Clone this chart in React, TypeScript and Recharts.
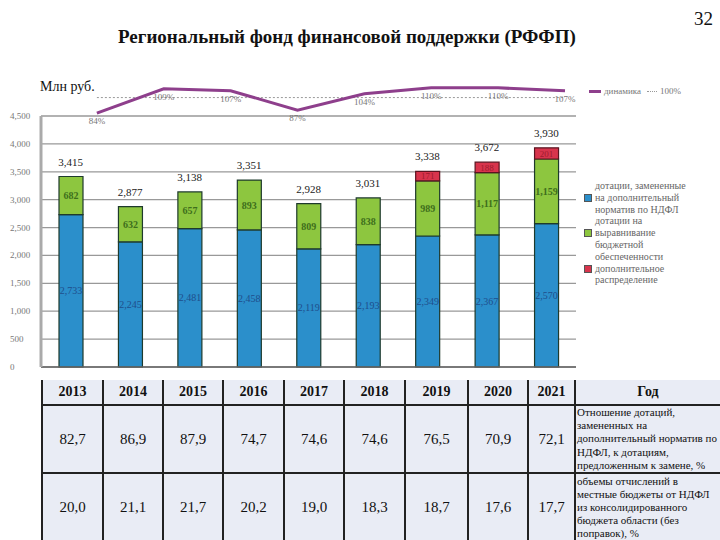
import React from 'react';
import {
  ComposedChart, Bar, Line, XAxis, YAxis, CartesianGrid, LabelList,
  LineChart, ReferenceLine,
} from 'recharts';

const years = ['2013', '2014', '2015', '2016', '2017', '2018', '2019', '2020', '2021'];
const dotNdfl = [2733, 2245, 2481, 2458, 2119, 2193, 2349, 2367, 2570];
const dotVyr = [682, 632, 657, 893, 809, 838, 989, 1117, 1159];
const dopRasp = [0, 0, 0, 0, 0, 0, 171, 188, 201];
const totalLabels = ['3,415', '2,877', '3,138', '3,351', '2,928', '3,031', '3,338', '3,672', '3,930'];
const dynamicsPct: (number | null)[] = [null, 84, 109, 107, 87, 104, 110, 110, 107];
const yTicks = [0, 500, 1000, 1500, 2000, 2500, 3000, 3500, 4000, 4500];

const seriesNames = [
  'дотации, замененные на дополнительный норматив по НДФЛ',
  'дотации на выравнивание бюджетной обеспеченности',
  'дополнительное распределение',
];
const legendLines = [
  ['дотации, замененные', 'на дополнительный', 'норматив по НДФЛ'],
  ['дотации на', 'выравнивание', 'бюджетной', 'обеспеченности'],
  ['дополнительное', 'распределение'],
];

const ratioRow = ['82,7', '86,9', '87,9', '74,7', '74,6', '74,6', '76,5', '70,9', '72,1'];
const shareRow = ['20,0', '21,1', '21,7', '20,2', '19,0', '18,3', '18,7', '17,6', '17,7'];
const ratioTitleLines = ['Отношение дотаций,', 'замененных на', 'дополнительный норматив по', 'НДФЛ, к дотациям,', 'предложенным к замене, %'];
const shareTitleLines = ['объемы отчислений в', 'местные бюджеты от НДФЛ', 'из консолидированного', 'бюджета области (без', 'поправок), %'];

const barData = years.map((y, i) => ({
  year: y,
  ndfl: dotNdfl[i],
  vyr: dotVyr[i],
  dop: dopRasp[i],
  top: dotNdfl[i] + dotVyr[i] + dopRasp[i],
  total: totalLabels[i],
}));
const lineData = years.map((y, i) => ({ year: y, dyn: dynamicsPct[i] }));

const BLUE = '#2B8FCB';
const GREEN = '#8DC63F';
const RED = '#D8344C';
const OUTLINE = '#1E3A2C';
const SERIF = '"Liberation Serif", "DejaVu Serif", serif';

const fmt = (v: any) => (v ? Number(v).toLocaleString('en-US') : '');

const YTick = (props: any) => {
  const { y, payload } = props;
  return (
    <text x={10} y={y + 3} fontSize={9} fill="#777" fontFamily={SERIF} textAnchor="start">
      {Number(payload.value).toLocaleString('en-US')}
    </text>
  );
};

const PctLabel = (p: any) => {
  const vb = p.viewBox || {};
  const x = p.x ?? vb.x;
  const y = p.y ?? vb.y;
  if (p.value == null || x == null || y == null) return null;
  return (
    <text x={x} y={y + 11} textAnchor="middle" fontSize={9} fill="#777" fontFamily={SERIF}>
      {p.value}%
    </text>
  );
};

const BarLegend = () => (
  <div style={{ position: 'absolute', left: 584, top: 180, fontFamily: SERIF, fontSize: 10, color: '#666', lineHeight: '11.8px' }}>
    {legendLines.map((lines, gi) => {
      const color = [BLUE, GREEN, RED][gi];
      const markLine = gi === 2 ? 0 : 1;
      return (
        <div key={gi} title={seriesNames[gi]}>
          {lines.map((t, li) => (
            <div key={li} style={{ position: 'relative', paddingLeft: 11, whiteSpace: 'nowrap' }}>
              {li === markLine && (
                <span style={{ position: 'absolute', left: 0, top: 2, width: 8, height: 8, background: color, border: '1px solid #555', boxSizing: 'border-box' }} />
              )}
              {t}
            </div>
          ))}
        </div>
      );
    })}
  </div>
);

const LineLegend = () => (
  <div style={{ position: 'absolute', left: 589, top: 86, fontFamily: SERIF, fontSize: 9, color: '#777', display: 'flex', alignItems: 'center', whiteSpace: 'nowrap' }}>
    <span style={{ display: 'inline-block', width: 12, height: 3, background: '#8E3F8C', marginRight: 3 }} />
    <span>динамика</span>
    <span style={{ display: 'inline-block', width: 10, borderTop: '1px dotted #999', margin: '0 3px 0 6px' }} />
    <span>100%</span>
  </div>
);

const cellBorder = '2px solid #222';
const colWidths = [61, 60, 60, 61, 60, 61, 63, 60, 47, 145];
const BG = '#E9ECF5';

const DataTable = () => (
  <table
    style={{
      position: 'absolute', left: 41, top: 380, width: 679,
      borderCollapse: 'collapse', tableLayout: 'fixed', fontFamily: SERIF, color: '#111',
    }}
  >
    <colgroup>
      {colWidths.map((w, i) => <col key={i} style={{ width: w }} />)}
    </colgroup>
    <tbody>
      <tr style={{ height: 25 }}>
        {years.map((y) => (
          <td key={y} style={{ borderLeft: cellBorder, borderBottom: cellBorder, background: BG, textAlign: 'center', fontWeight: 'bold', fontSize: 14, padding: 0 }}>{y}</td>
        ))}
        <td style={{ borderLeft: cellBorder, borderBottom: cellBorder, background: BG, textAlign: 'center', fontWeight: 'bold', fontSize: 14, padding: 0 }}>Год</td>
      </tr>
      <tr style={{ height: 67 }}>
        {ratioRow.map((v, i) => (
          <td key={i} style={{ borderLeft: cellBorder, borderBottom: cellBorder, background: BG, textAlign: 'center', fontSize: 15, padding: 0 }}>{v}</td>
        ))}
        <td style={{ borderLeft: cellBorder, borderBottom: cellBorder, background: BG, fontSize: 11, lineHeight: '13.2px', padding: '0 1px', verticalAlign: 'middle', whiteSpace: 'nowrap', overflow: 'hidden' }}>
          {ratioTitleLines.map((l, i) => <div key={i}>{l}</div>)}
        </td>
      </tr>
      <tr style={{ height: 68 }}>
        {shareRow.map((v, i) => (
          <td key={i} style={{ borderLeft: cellBorder, background: BG, textAlign: 'center', fontSize: 15, padding: 0 }}>{v}</td>
        ))}
        <td style={{ borderLeft: cellBorder, background: BG, fontSize: 11, lineHeight: '13.2px', padding: '0 1px', verticalAlign: 'middle', whiteSpace: 'nowrap', overflow: 'hidden' }}>
          {shareTitleLines.map((l, i) => <div key={i}>{l}</div>)}
        </td>
      </tr>
    </tbody>
  </table>
);

export default function App() {
  return (
    <div style={{ position: 'absolute', left: 0, top: 0, width: 720, height: 540, background: '#fff', overflow: 'hidden' }}>
      <div style={{ position: 'absolute', right: 7, top: 8, fontFamily: SERIF, fontSize: 19, color: '#111' }}>32</div>
      <div style={{ position: 'absolute', left: 118, top: 26, whiteSpace: 'nowrap', fontFamily: SERIF, fontSize: 19, fontWeight: 'bold', color: '#111' }}>
        Региональный фонд финансовой поддержки (РФФП)
      </div>
      <div style={{ position: 'absolute', left: 40, top: 79, fontFamily: SERIF, fontSize: 14, color: '#111' }}>Млн руб.</div>

      <div style={{ position: 'absolute', left: 0, top: 0 }}>
        <ComposedChart width={720} height={540} data={barData} margin={{ top: 116, right: 144, bottom: 172, left: 0 }}>
          <CartesianGrid horizontal vertical={false} stroke="#999" strokeWidth={1.3} />
          <XAxis dataKey="year" tick={false} tickLine={false} axisLine={{ stroke: '#666', strokeWidth: 1.5 }} height={1} />
          <YAxis domain={[0, 4500]} ticks={yTicks} interval={0} width={41} tick={<YTick />} tickLine={false} axisLine={{ stroke: '#aaa', strokeWidth: 3 }} />
          <Bar dataKey="ndfl" name={seriesNames[0]} stackId="a" fill={BLUE} stroke={OUTLINE} strokeWidth={1.2} barSize={24} isAnimationActive={false}>
            <LabelList dataKey="ndfl" position="center" formatter={fmt} fill="#1F4E8C" fontSize={10} fontFamily={SERIF} />
          </Bar>
          <Bar dataKey="vyr" name={seriesNames[1]} stackId="a" fill={GREEN} stroke={OUTLINE} strokeWidth={1.2} barSize={24} isAnimationActive={false}>
            <LabelList dataKey="vyr" position="center" formatter={fmt} fill="#3E6E1C" fontSize={10} fontWeight="bold" fontFamily={SERIF} />
          </Bar>
          <Bar dataKey="dop" name={seriesNames[2]} stackId="a" fill={RED} stroke="#5A1420" strokeWidth={1.2} barSize={24} isAnimationActive={false}>
            <LabelList dataKey="dop" position="center" formatter={fmt} fill="#9E1B2E" fontSize={9} fontFamily={SERIF} />
          </Bar>
          <Line dataKey="top" stroke="none" dot={false} activeDot={false} legendType="none" isAnimationActive={false}>
            <LabelList dataKey="total" position="top" offset={11} fill="#222" fontSize={11} fontFamily={SERIF} />
          </Line>
        </ComposedChart>
      </div>

      <div style={{ position: 'absolute', left: 0, top: 0, pointerEvents: 'none' }}>
        <LineChart width={720} height={540} data={lineData} margin={{ top: 83, right: 155, bottom: 423, left: 30 }}>
          <XAxis dataKey="year" hide />
          <YAxis domain={[80, 115]} hide />
          <ReferenceLine segment={[{ x: '2014', y: 100 }, { x: '2021', y: 100 }]} stroke="#999" strokeDasharray="2 2" />
          <Line dataKey="dyn" name="динамика" stroke="#8E3F8C" strokeWidth={3} dot={false} connectNulls={false} isAnimationActive={false}>
            <LabelList dataKey="dyn" content={<PctLabel />} />
          </Line>
        </LineChart>
      </div>

      <LineLegend />
      <BarLegend />
      <DataTable />
    </div>
  );
}
